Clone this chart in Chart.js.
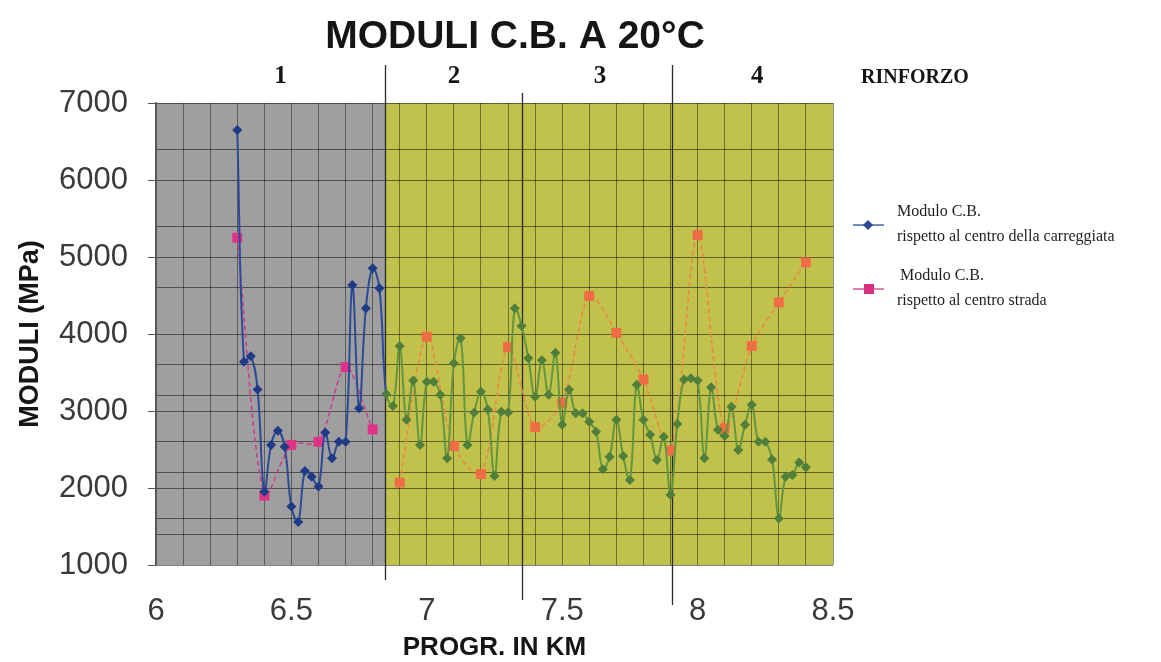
<!DOCTYPE html>
<html>
<head>
<meta charset="utf-8">
<title>Moduli C.B. a 20°C</title>
<script src="https://cdn.jsdelivr.net/npm/chart.js@4.4.1/dist/chart.umd.min.js"></script>
<style>
  body { margin: 0; background: #fff; }
  #wrap { width: 1161px; height: 662px; }
</style>
</head>
<body>
<div id="wrap"><canvas id="chart" width="1161" height="662"></canvas></div>
<script>
// progressive (km) of each point, lane-centre series
const progrKm = [
    6.300, 6.325, 6.350, 6.375, 6.400, 6.425, 6.450, 6.475, 6.500, 6.525,
    6.550, 6.575, 6.600, 6.625, 6.650, 6.675, 6.700, 6.725, 6.750, 6.775,
    6.800, 6.825, 6.850, 6.875, 6.900, 6.925, 6.950, 6.975, 7.000, 7.025,
    7.050, 7.075, 7.100, 7.125, 7.150, 7.175, 7.200, 7.225, 7.250, 7.275,
    7.300, 7.325, 7.350, 7.375, 7.400, 7.425, 7.450, 7.475, 7.500, 7.525,
    7.550, 7.575, 7.600, 7.625, 7.650, 7.675, 7.700, 7.725, 7.750, 7.775,
    7.800, 7.825, 7.850, 7.875, 7.900, 7.925, 7.950, 7.975, 8.000, 8.025,
    8.050, 8.075, 8.100, 8.125, 8.150, 8.175, 8.200, 8.225, 8.250, 8.275,
    8.300, 8.325, 8.350, 8.375, 8.400
];
// Modulo C.B. rispetto al centro della carreggiata (MPa)
const moduloCarreggiata = [
    6650, 3640, 3710, 3280, 1950, 2560, 2745, 2535, 1760, 1560,
    2220, 2145, 2020, 2720, 2385, 2600, 2600, 4635, 3035, 4335,
    4855, 4595, 3220, 3065, 3845, 2885, 3395, 2560, 3380, 3380,
    3210, 2385, 3620, 3945, 2560, 2980, 3250, 3020, 2155, 2990,
    2980, 4335, 4105, 3685, 3185, 3660, 3210, 3755, 2820, 3280,
    2970, 2970, 2860, 2730, 2245, 2405, 2885, 2415, 2105, 3340,
    2885, 2690, 2365, 2665, 1910, 2830, 3410, 3425, 3395, 2385,
    3310, 2755, 2675, 3055, 2495, 2820, 3080, 2600, 2600, 2370,
    1605, 2145, 2170, 2330, 2270
];
// road-centre series (null = break in the line)
const progrKmStrada = [
    6.3, 6.4, 6.5, 6.6, 6.7, 6.8, 6.85, 6.9, 7.0, 7.1, 7.2, 7.3,
    7.4, 7.5, 7.6, 7.7, 7.8, 7.9, 8.0, 8.1, 8.2, 8.3, 8.4
];
const moduloStrada = [
    5250, 1900, 2560, 2600, 3570, 2760, null, 2070, 3965, 2545, 2180, 3830,
    2790, 3110, 4495, 4015, 3410, 2485, 5285, 2775, 3845, 4410, 4930
];

// y grid values (scanned grid is irregular), labelled only at thousands
const gridMPa = [1000, 1400, 1600, 2000, 2200, 2600, 3000, 3200, 3600, 4000, 4600, 5000, 5400, 6000, 6400, 7000];
// section boundaries (km) and labels above the plot
const sectionBounds = [6.846, 7.35, 7.905];
const sectionLabels = ['1', '2', '3', '4'];
const sectionCenters = [6.46, 7.1, 7.64, 8.22];

const legendItems = [
    { line1: 'Modulo C.B.', line2: 'rispetto al centro della carreggiata', color: '#2a4896', line: '#3b6aa0', style: 'rectRot' },
    { line1: 'Modulo C.B.', line2: 'rispetto al centro strada', color: '#d8307e', line: '#d05a9a', style: 'rect' }
];

const splitKm = sectionBounds[0];
const inGray = v => v < splitKm;

const chartDecor = {
    id: 'chartDecor',
    beforeDraw(chart) {
        const { ctx, chartArea: a, scales: { x } } = chart;
        const split = x.getPixelForValue(splitKm);
        ctx.save();
        ctx.fillStyle = '#9f9f9f';
        ctx.fillRect(a.left, a.top, split - a.left, a.bottom - a.top);
        ctx.fillStyle = '#c0c24c';
        ctx.fillRect(split, a.top, a.right - split, a.bottom - a.top);
        ctx.restore();
    },
    beforeDatasetsDraw(chart) {
        const { ctx, scales: { x } } = chart;
        const tops = [65, 93, 65];
        const bottoms = [580, 600, 605];
        ctx.save();
        ctx.strokeStyle = '#2a2a2a';
        ctx.lineWidth = 1.3;
        sectionBounds.forEach((km, i) => {
            const px = Math.round(x.getPixelForValue(km)) + 0.5;
            ctx.beginPath();
            ctx.moveTo(px, tops[i]);
            ctx.lineTo(px, bottoms[i]);
            ctx.stroke();
        });
        ctx.restore();
    },
    afterDraw(chart) {
        const { ctx, scales: { x } } = chart;
        ctx.save();

        // title
        ctx.fillStyle = '#151515';
        ctx.font = 'bold 39px "Liberation Sans", Arial, sans-serif';
        ctx.textAlign = 'center';
        ctx.textBaseline = 'middle';
        ctx.fillText('MODULI C.B. A 20°C', 515, 37);

        // section numbers
        ctx.font = 'bold 25px "Liberation Serif", "Times New Roman", serif';
        sectionLabels.forEach((t, i) => {
            ctx.fillText(t, x.getPixelForValue(sectionCenters[i]), 77);
        });
        ctx.font = 'bold 20px "Liberation Serif", "Times New Roman", serif';
        ctx.fillText('RINFORZO', 915, 78);

        // legend
        ctx.textAlign = 'left';
        ctx.textBaseline = 'middle';
        legendItems.forEach((item, i) => {
            const y = 225 + i * 64;
            ctx.strokeStyle = item.line;
            ctx.lineWidth = 1.5;
            ctx.beginPath();
            ctx.moveTo(853, y);
            ctx.lineTo(884, y);
            ctx.stroke();
            ctx.fillStyle = item.color;
            ctx.beginPath();
            if (item.style === 'rectRot') {
                ctx.moveTo(868, y - 5);
                ctx.lineTo(873, y);
                ctx.lineTo(868, y + 5);
                ctx.lineTo(863, y);
                ctx.closePath();
            } else {
                ctx.rect(864, y - 5, 10, 10);
            }
            ctx.fill();
            ctx.fillStyle = '#1e1e1e';
            ctx.font = '16px "Liberation Serif", "Times New Roman", serif';
            ctx.fillText(item.line1, 897 + i * 3, y - 13);
            ctx.fillText(item.line2, 897, y + 12);
        });
        ctx.restore();
    }
};

const ctx = document.getElementById('chart').getContext('2d');
Chart.defaults.font.family = '"Liberation Sans", Arial, sans-serif';

new Chart(ctx, {
    type: 'line',
    data: {
        datasets: [
            {
                label: 'Modulo C.B. rispetto al centro della carreggiata',
                data: progrKm.map((km, i) => ({ x: km, y: moduloCarreggiata[i] })),
                borderWidth: 2,
                tension: 0.4,
                pointStyle: 'rectRot',
                pointRadius: 5,
                pointBorderWidth: 0,
                pointBackgroundColor: c => (c.parsed && inGray(c.parsed.x)) ? '#1f3a86' : '#4f7f3a',
                segment: {
                    borderColor: c => inGray((c.p0.parsed.x + c.p1.parsed.x) / 2) ? '#2c4a98' : '#62963f'
                }
            },
            {
                label: 'Modulo C.B. rispetto al centro strada',
                data: progrKmStrada.map((km, i) => ({ x: km, y: moduloStrada[i] })),
                borderWidth: 1.5,
                borderDash: [5, 3],
                tension: 0.3,
                spanGaps: false,
                pointStyle: 'rect',
                pointRadius: 7,
                pointBorderWidth: 0,
                pointBackgroundColor: c => (c.parsed && inGray(c.parsed.x)) ? '#e03388' : '#f06c44',
                segment: {
                    borderColor: c => inGray((c.p0.parsed.x + c.p1.parsed.x) / 2) ? '#cf3a8c' : '#ec8549'
                }
            }
        ]
    },
    options: {
        responsive: false,
        animation: false,
        layout: { padding: { top: 103, right: 328, left: 0, bottom: 0 } },
        plugins: {
            legend: { display: false },
            title: { display: false },
            tooltip: { enabled: false }
        },
        scales: {
            x: {
                type: 'linear',
                min: 6,
                max: 8.5,
                afterFit(scale) { scale.height = 97; },
                ticks: {
                    stepSize: 0.1,
                    autoSkip: false,
                    maxRotation: 0,
                    padding: 28,
                    color: '#3a3a3a',
                    font: { size: 31 },
                    callback(value) {
                        const twice = Math.round(value * 10);
                        return twice % 5 === 0 ? String(twice / 10) : '';
                    }
                },
                grid: {
                    color: 'rgba(0,0,0,0.42)',
                    lineWidth: 1,
                    drawTicks: false
                },
                border: { display: false },
                title: {
                    display: true,
                    text: 'PROGR. IN KM',
                    color: '#151515',
                    font: { size: 26, weight: 'bold', lineHeight: 1 },
                    padding: { top: 0, bottom: 1 }
                }
            },
            y: {
                min: 1000,
                max: 7000,
                afterFit(scale) { scale.width = 156; },
                afterBuildTicks(scale) {
                    scale.ticks = gridMPa.map(v => ({ value: v }));
                },
                ticks: {
                    autoSkip: false,
                    padding: 20,
                    color: '#3a3a3a',
                    font: { size: 31 },
                    callback(value) { return value % 1000 === 0 ? String(value) : ''; }
                },
                grid: {
                    color: 'rgba(0,0,0,0.5)',
                    lineWidth: 1,
                    tickLength: 8,
                    tickColor: c => (c.tick && c.tick.value % 1000 === 0) ? '#555' : 'rgba(0,0,0,0)'
                },
                border: { display: true, color: '#555', width: 1.5 },
                title: {
                    display: true,
                    text: 'MODULI (MPa)',
                    color: '#151515',
                    font: { size: 27, weight: 'bold' },
                    padding: { top: 14, bottom: 4 }
                }
            }
        }
    },
    plugins: [chartDecor]
});
</script>
</body>
</html>
